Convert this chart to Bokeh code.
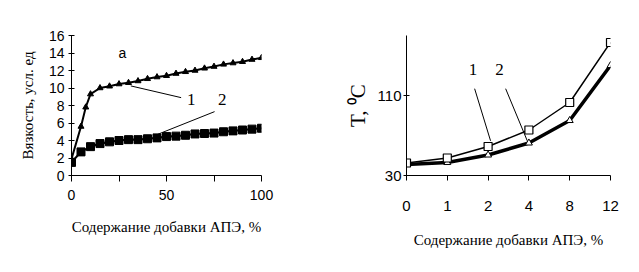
from bokeh.plotting import figure
from bokeh.layouts import row
from bokeh.models import Range1d, FixedTicker, Label
from bokeh.embed import file_html
from bokeh.resources import INLINE

# ---- left chart data (viscosity) ----
x_visc1 = [0, 5, 7.5, 10, 15, 20, 25, 30, 35, 40, 45, 50, 55, 60, 65, 70, 75, 80, 85, 90, 95, 100]
visc1 = [1.9, 5.6, 7.8, 9.3, 10.0, 10.2, 10.45, 10.6, 10.8, 11.05, 11.25, 11.4, 11.65, 11.85,
         12.0, 12.25, 12.45, 12.7, 12.85, 13.0, 13.25, 13.45]
x_visc2 = [0, 5, 10, 15, 20, 25, 30, 35, 40, 45, 50, 55, 60, 65, 70, 75, 80, 85, 90, 95, 100]
visc2 = [1.5, 2.7, 3.3, 3.65, 3.85, 4.0, 4.1, 4.1, 4.2, 4.3, 4.45, 4.5, 4.6, 4.75, 4.8, 4.85,
         5.0, 5.1, 5.2, 5.3, 5.4]
left_yticks = [0, 2, 4, 6, 8, 10, 12, 14, 16]
left_xticks = [0, 25, 50, 75, 100]
left_xlabels = {0: "0", 25: "", 50: "50", 75: "", 100: "100"}

# ---- right chart data (temperature) ----
cats = ["0", "1", "2", "4", "8", "12"]
temp1 = [42.5, 47.5, 59, 75.5, 103, 163]
temp2 = [41, 43, 50.5, 62.5, 85, 140]
right_yticks = [30, 110]

SERIF = "Liberation Serif"
SANS = "Liberation Sans"
xtitle = "Содержание добавки АПЭ, %"


def style(p):
    p.background_fill_color = "white"
    p.border_fill_color = "white"
    p.outline_line_color = None
    p.xgrid.visible = False
    p.ygrid.visible = False
    for ax in (p.xaxis[0], p.yaxis[0]):
        ax.axis_line_color = "black"
        ax.major_tick_line_color = "black"
        ax.minor_tick_line_color = None
        ax.major_label_text_color = "black"
        ax.major_label_text_font = SANS
        ax.axis_label_text_color = "black"
        ax.axis_label_text_font = SERIF
        ax.axis_label_text_font_style = "normal"


# ================= LEFT =================
pl = figure(width=320, height=272, output_backend="svg", toolbar_location=None,
            x_range=Range1d(0, 100), y_range=Range1d(0, 16),
            min_border_left=71, min_border_right=59, min_border_top=35, min_border_bottom=93)
style(pl)
pl.xaxis.ticker = FixedTicker(ticks=left_xticks)
pl.xaxis.major_label_overrides = left_xlabels
pl.xaxis.major_tick_out = 6
pl.xaxis.major_tick_in = 0
pl.xaxis.major_label_standoff = 8
pl.xaxis.major_label_text_font_size = "14px"
pl.xaxis.axis_label = xtitle
pl.xaxis.axis_label_text_font_size = "15px"
pl.xaxis.axis_label_standoff = 16
pl.yaxis.ticker = FixedTicker(ticks=left_yticks)
pl.yaxis.major_tick_out = 3
pl.yaxis.major_tick_in = 3
pl.yaxis.major_label_standoff = 4
pl.yaxis.major_label_text_font_size = "14px"
pl.yaxis.axis_label = "Вязкость, усл. ед"
pl.yaxis.axis_label_text_font_size = "15px"
pl.yaxis.axis_label_standoff = 10

pl.line(x_visc1, visc1, line_color="black", line_width=2)
pl.scatter(x_visc1, visc1, marker="triangle", size=6, fill_color="black", line_color="black")
pl.line(x_visc2, visc2, line_color="black", line_width=2.2)
pl.scatter(x_visc2, visc2, marker="square", size=8, fill_color="black", line_color="black")

pl.segment(x0=[31.2, 45.3], y0=[10.24, 4.7], x1=[57.7, 75.3], y1=[8.9, 7.3],
           line_color="black", line_width=1)
pl.add_layout(Label(x=63, y=8.66, text="1", text_font=SERIF, text_font_size="17px",
                    text_align="center", text_baseline="middle", text_color="black"))
pl.add_layout(Label(x=79.4, y=8.66, text="2", text_font=SERIF, text_font_size="17px",
                    text_align="center", text_baseline="middle", text_color="black"))
pl.add_layout(Label(x=26.8, y=14.05, text="a", text_font=SANS, text_font_size="14px",
                    text_align="center", text_baseline="middle", text_color="black"))

# ================= RIGHT =================
xi = list(range(len(cats)))
pr = figure(width=319, height=272, output_backend="svg", toolbar_location=None,
            x_range=Range1d(0, len(cats) - 1), y_range=Range1d(30, 170),
            min_border_left=86, min_border_right=29, min_border_top=31, min_border_bottom=97)
style(pr)
pr.xaxis.ticker = FixedTicker(ticks=xi)
pr.xaxis.major_label_overrides = {i: c for i, c in enumerate(cats)}
pr.xaxis.major_tick_out = 5
pr.xaxis.major_tick_in = 0
pr.xaxis.major_label_standoff = 20
pr.xaxis.major_label_text_font_size = "15px"
pr.xaxis.axis_label = xtitle
pr.xaxis.axis_label_text_font_size = "15px"
pr.xaxis.axis_label_standoff = 18
pr.yaxis.ticker = FixedTicker(ticks=right_yticks)
pr.yaxis.major_tick_out = 3
pr.yaxis.major_tick_in = 3
pr.yaxis.major_label_standoff = 2
pr.yaxis.major_label_text_font_size = "15px"
pr.yaxis.axis_label = "T, \u2070C"
pr.yaxis.axis_label_text_font_size = "21px"
pr.yaxis.axis_label_standoff = 5

pr.line(xi, temp2, line_color="black", line_width=3.5)
pr.scatter(xi, temp2, marker="triangle", size=7, fill_color="white", line_color="black")
pr.line(xi, temp1, line_color="black", line_width=1.5)
pr.scatter(xi, temp1, marker="square", size=8, fill_color="white", line_color="black", line_width=1.2)

pr.segment(x0=[1.67, 2.43], y0=[116.8, 116.8], x1=[2.06, 2.96], y1=[64.7, 64.7],
           line_color="black", line_width=1)
pr.add_layout(Label(x=1.63, y=136.3, text="1", text_font=SERIF, text_font_size="17px",
                    text_align="center", text_baseline="middle", text_color="black"))
pr.add_layout(Label(x=2.28, y=136.3, text="2", text_font=SERIF, text_font_size="17px",
                    text_align="center", text_baseline="middle", text_color="black"))

layout = row(pl, pr)
open("out.html", "w").write(file_html(layout, INLINE))
